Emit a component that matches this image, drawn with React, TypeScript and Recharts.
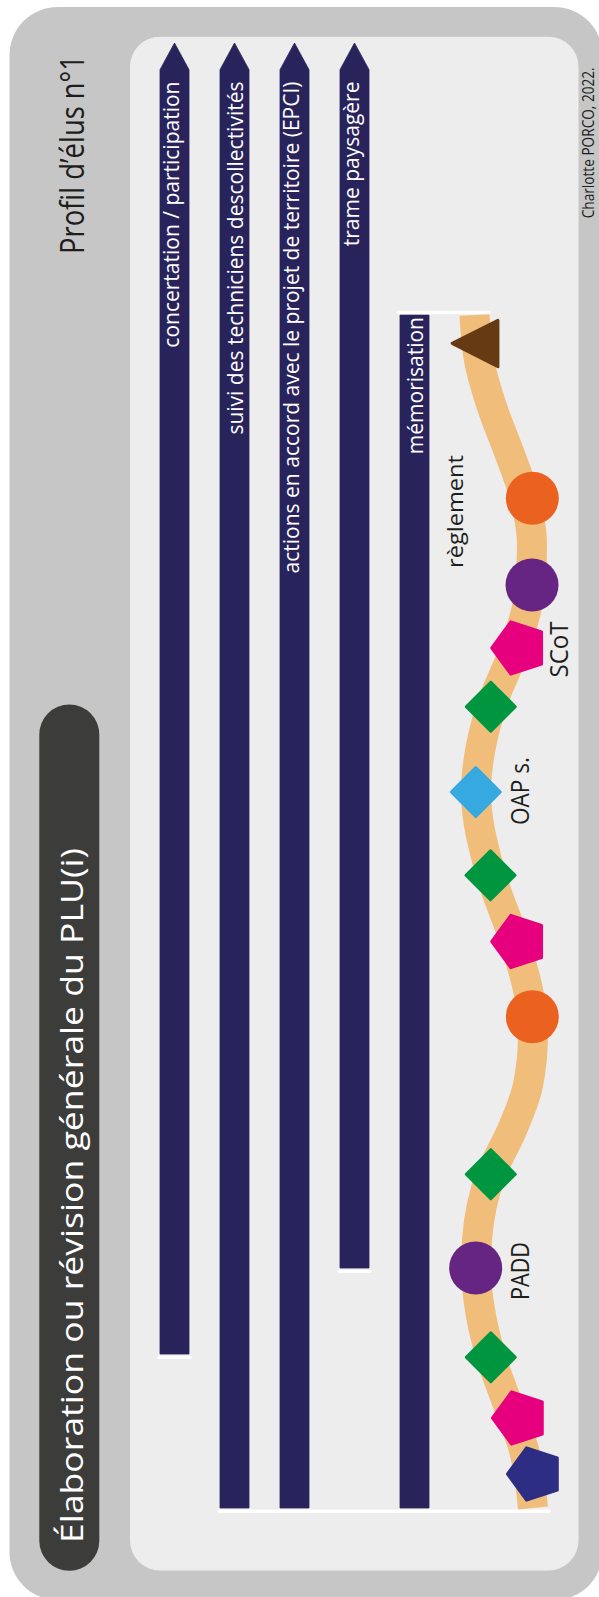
import React from 'react';
import { ComposedChart, Bar, Scatter, XAxis, YAxis, ReferenceLine } from 'recharts';

// ---------------- data ----------------
// lanes (columns) of the diagram; lanes 5-6 hold the procedure path
const laneLabels = [
  'concertation / participation',
  'suivi des techniciens descollectivités',
  'actions en accord avec le projet de territoire (EPCI)',
  'trame paysagère',
  'mémorisation',
  'parcours',
  'étapes',
];
// position along the procedure (0 = start at the bottom)
const barStart: (number | null)[] = [15.4, 0, 0, 24.0, 0, null, null];
const barEnd: (number | null)[] = [146.5, 146.5, 146.5, 146.5, 119.3, null, null];
const barIsArrow = [true, true, true, true, false, false, false];

// procedure path (lateral lane offset, position along the procedure)
const pathLane = [5.008, 5.083, 5.317, 5.583, 5.833, 5.967, 5.933, 5.7, 5.283, 5.033, 5.283, 5.667, 5.917, 5.983, 5.9, 5.633, 5.283, 5.05, 5.033, 5.1, 5.283, 5.567, 5.833, 5.983];
const pathPos = [119.3, 114.8, 109.8, 105.6, 101.3, 96.3, 91.8, 86.3, 80.1, 71.6, 63.3, 56.8, 51.3, 47.3, 42.3, 37.8, 33.4, 26.8, 24.0, 19.8, 15.1, 10.3, 5.8, 0];

// markers along the path
const markerKind = ['triangle', 'orange', 'purple', 'pink', 'green', 'blue', 'green', 'pink', 'orange', 'green', 'purple', 'green', 'pink', 'navy'];
const markerLane = [5.152, 5.972, 5.967, 5.755, 5.28, 5.03, 5.275, 5.755, 5.972, 5.28, 5.028, 5.28, 5.767, 6.017];
const markerPos = [116.47, 100.97, 92.3, 86.0, 80.13, 71.6, 63.27, 56.65, 49.13, 33.38, 24.0, 15.07, 9.0, 3.4];

// stage labels
const stageLabels = ['règlement', 'SCoT', 'OAP s.', 'PADD'];
const stageLane = [4.73, 6.42, 5.753, 5.747];
const stagePos = [99.65, 85.85, 71.7, 23.7];

// start lines
const startFrom = [0.75, 3.74];
const startTo = [6.25, 5.25];
const startPos = [-0.33, 119.55];

const profileTitle = 'Profil d’élus n°1';
const chartTitle = 'Élaboration ou révision générale du PLU(i)';
const credit = 'Charlotte PORCO, 2022.';

// ---------------- styles ----------------
const FONT = "'Open Sans', sans-serif";
const BAR_COLOR = '#29235C';
const PATH_COLOR = '#F1BD7B';
const TEXT_DARK = '#1D1D1B';

const MARKER_STYLE: Record<string, { shape: string; color: string }> = {
  triangle: { shape: 'triangle', color: '#663A12' },
  orange: { shape: 'circle', color: '#EB6220' },
  purple: { shape: 'circle', color: '#662483' },
  pink: { shape: 'pentagon', color: '#E6007E' },
  green: { shape: 'diamond', color: '#009640' },
  blue: { shape: 'diamond', color: '#36A9E1' },
  navy: { shape: 'pentagon', color: '#2D2E83' },
};

const LABEL_STYLE: Record<string, { fontSize: number; length: number; shift: number }> = {
  'règlement': { fontSize: 22, length: 113, shift: 5.5 },
  SCoT: { fontSize: 25, length: 56, shift: 9.1 },
  'OAP s.': { fontSize: 26, length: 68, shift: 10.3 },
  PADD: { fontSize: 26, length: 58, shift: 10.3 },
};

// ---------------- derived tables ----------------
const barRows = laneLabels.map((lane, i) => ({
  lane,
  span: barStart[i] == null || barEnd[i] == null ? null : [barStart[i], barEnd[i]],
  arrow: barIsArrow[i],
}));
const pathRows = pathLane.map((offset, i) => ({ offset, pos: pathPos[i] }));
const markerRows = markerKind.map((kind, i) => ({ kind, offset: markerLane[i], pos: markerPos[i] }));
const labelRows = stageLabels.map((text, i) => ({ text, offset: stageLane[i], pos: stagePos[i] }));

// ---------------- shapes ----------------
const LaneBar = (props: any) => {
  const { x, y, width, height, payload } = props;
  if (!payload || payload.span == null || !(height > 0)) return <g />;
  const cx = x + width / 2;
  const bottom = y + height;
  const head = payload.arrow ? width * 0.92 : 0;
  const d = payload.arrow
    ? `M${x},${bottom} L${x},${y + head} L${cx},${y} L${x + width},${y + head} L${x + width},${bottom} Z`
    : `M${x},${bottom} L${x},${y} L${x + width},${y} L${x + width},${bottom} Z`;
  const hasDesc = /[gjpqy(),]/.test(payload.lane);
  const bx = cx + (hasDesc ? 4 : 8.5);
  const ty = y + (payload.arrow ? 38.5 : 2);
  return (
    <g>
      <path d={d} fill={BAR_COLOR} stroke={BAR_COLOR} strokeWidth={0.8} strokeLinejoin="round" />
      {payload.span[0] > 0 && (
        <rect x={x - 2.5} y={bottom + 1.7} width={width + 5} height={3.4} rx={1.7} fill="#ffffff" />
      )}
      <text
        x={bx}
        y={ty}
        transform={`rotate(-90 ${bx} ${ty})`}
        textAnchor="end"
        fill="#ffffff"
        fontSize={21}
        fontFamily={FONT}
      >
        {payload.lane}
      </text>
    </g>
  );
};

const EmptyShape = () => <g />;

const MarkerShape = (props: any) => {
  const { cx, cy, payload } = props;
  const st = MARKER_STYLE[payload.kind];
  if (!st) return <g />;
  const common = { fill: st.color, stroke: st.color, strokeWidth: 3, strokeLinejoin: 'round' as const };
  if (st.shape === 'circle') return <circle cx={cx} cy={cy} r={26.5} fill={st.color} />;
  if (st.shape === 'diamond') {
    const h = 24.5;
    return <polygon points={`${cx},${cy - h} ${cx + h},${cy} ${cx},${cy + h} ${cx - h},${cy}`} {...common} />;
  }
  if (st.shape === 'pentagon') {
    const r = 27.5;
    const pts = [180, 252, 324, 36, 108]
      .map((a) => {
        const t = (a * Math.PI) / 180;
        return `${cx + r * Math.cos(t)},${cy + r * Math.sin(t)}`;
      })
      .join(' ');
    return <polygon points={pts} {...common} />;
  }
  // triangle pointing left
  return (
    <polygon
      points={`${cx - 31},${cy} ${cx + 14.8},${cy - 23} ${cx + 14.8},${cy + 23.4}`}
      {...common}
    />
  );
};

const LabelShape = (props: any) => {
  const { cx, cy, payload } = props;
  const st = LABEL_STYLE[payload.text];
  const bx = cx + st.shift;
  return (
    <text
      x={bx}
      y={cy}
      transform={`rotate(-90 ${bx} ${cy})`}
      textAnchor="middle"
      fill={TEXT_DARK}
      fontSize={st.fontSize}
      fontFamily={FONT}
      textLength={st.length}
      lengthAdjust="spacingAndGlyphs"
    >
      {payload.text}
    </text>
  );
};

export default function App() {
  return (
    <div style={{ position: 'absolute', left: 0, top: 0, width: 599, height: 1597, overflow: 'hidden' }}>
      <svg width={599} height={1597} style={{ position: 'absolute', left: 0, top: 0 }}>
        <rect x={9.5} y={7} width={593} height={1593} rx={48} fill="#C6C6C6" />
        <rect x={130} y={36.7} width={448.5} height={1533.8} rx={30} fill="#EDEDED" />
        <rect x={39.3} y={704.5} width={60} height={866.2} rx={30} fill="#3C3C3B" />
        <text
          x={83.8}
          y={254}
          transform="rotate(-90 83.8 254)"
          textAnchor="start"
          fill={TEXT_DARK}
          fontSize={33}
          fontFamily={FONT}
          textLength={199}
          lengthAdjust="spacingAndGlyphs"
        >
          {profileTitle}
        </text>
        <text
          x={83.3}
          y={1543}
          transform="rotate(-90 83.3 1543)"
          textAnchor="start"
          fill="#ffffff"
          fontSize={31}
          fontFamily={FONT}
          textLength={695}
          lengthAdjust="spacingAndGlyphs"
        >
          {chartTitle}
        </text>
        <text
          x={594.5}
          y={218.3}
          transform="rotate(-90 594.5 218.3)"
          textAnchor="start"
          fill={TEXT_DARK}
          fontSize={16}
          fontFamily={FONT}
          textLength={151}
          lengthAdjust="spacingAndGlyphs"
        >
          {credit}
        </text>
      </svg>
      <div style={{ position: 'absolute', left: 0, top: 0 }}>
        <ComposedChart
          width={599}
          height={1597}
          data={barRows}
          margin={{ top: 43, right: 35, bottom: 89, left: 144 }}
        >
          <XAxis xAxisId="cat" dataKey="lane" type="category" hide />
          <XAxis xAxisId="num" dataKey="offset" type="number" domain={[-0.5, 6.5]} hide />
          <YAxis dataKey="pos" type="number" domain={[0, 146.5]} hide />
          <Bar
            xAxisId="cat"
            dataKey="span"
            barSize={29}
            shape={LaneBar}
            isAnimationActive={false}
          />
          <Scatter
            xAxisId="num"
            data={pathRows}
            line={{ stroke: PATH_COLOR, strokeWidth: 30, fill: 'none' }}
            lineJointType="monotoneY"
            shape={EmptyShape}
            fill={PATH_COLOR}
            isAnimationActive={false}
          />
          {startFrom.map((f, i) => (
            <ReferenceLine
              key={`start-${i}`}
              xAxisId="num"
              segment={[
                { x: f, y: startPos[i] },
                { x: startTo[i], y: startPos[i] },
              ]}
              stroke="#ffffff"
              strokeWidth={3.6}
              strokeLinecap="round"
              ifOverflow="visible"
            />
          ))}
          <Scatter
            xAxisId="num"
            data={markerRows}
            shape={MarkerShape}
            isAnimationActive={false}
          />
          <Scatter
            xAxisId="num"
            data={labelRows}
            shape={LabelShape}
            isAnimationActive={false}
          />
        </ComposedChart>
      </div>
    </div>
  );
}
